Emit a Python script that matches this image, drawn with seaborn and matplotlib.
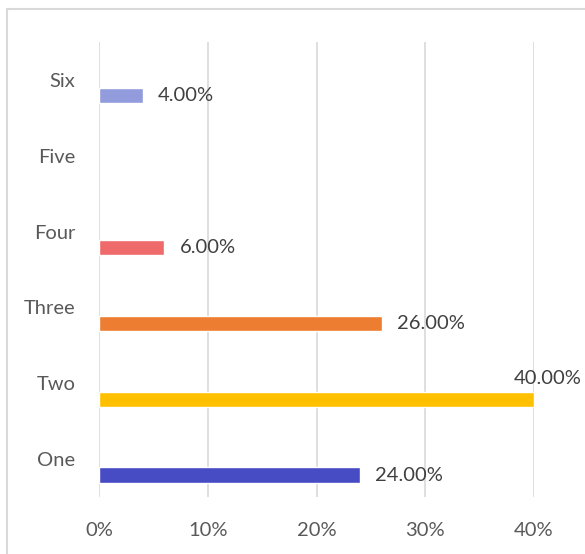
import numpy as np
import pandas as pd
import matplotlib
matplotlib.use("Agg")
import matplotlib.pyplot as plt
from matplotlib.lines import Line2D
import seaborn as sns

# Share of responses per option
categories = ["Six", "Five", "Four", "Three", "Two", "One"]
shares = [0.04, np.nan, 0.06, 0.26, 0.40, 0.24]
bar_colors = ["#929CDC", "#A5A5A5", "#EF6B6B", "#ED7D31", "#FFC000", "#474BC4"]
x_ticks = [0.0, 0.1, 0.2, 0.3, 0.4]
x_tick_labels = ["0%", "10%", "20%", "30%", "40%"]

df = pd.DataFrame({"option": categories, "share": shares})

sns.set_theme(style="white")
plt.rcParams["font.family"] = ["Lato", "DejaVu Sans"]

text_color = "#595959"
value_color = "#404040"
grid_color = "#D9D9D9"
fs = 14.5

fig = plt.figure(figsize=(5.85, 5.54), dpi=100)
ax = fig.add_axes([99 / 585, 1 - 497 / 554, (534 - 99) / 585, (497 - 42) / 554])

sns.barplot(
    data=df, y="option", x="share", order=categories, hue="option",
    palette=dict(zip(categories, bar_colors)), legend=False,
    orient="h", width=0.2, saturation=1, ax=ax,
)

# category labels sit above the bars, centred in each band
label_shift = 0.21
ax.set_yticks([i - label_shift for i in range(len(categories))])
ax.set_yticklabels(categories)
ax.set_ylim(len(categories) - 1 - label_shift + 0.5, -label_shift - 0.5)

ax.set_xlim(0, 0.4)
ax.set_xticks(x_ticks)
ax.set_xticklabels(x_tick_labels)
ax.set_xlabel("")
ax.set_ylabel("")

ax.grid(axis="x", color=grid_color, linewidth=1.2)
ax.set_axisbelow(True)
for s in ax.spines.values():
    s.set_visible(False)
ax.tick_params(axis="both", length=0, labelsize=fs, labelcolor=text_color)
ax.tick_params(axis="y", pad=17)
ax.tick_params(axis="x", pad=18)

# value labels
for i, v in enumerate(shares):
    if np.isnan(v):
        continue
    label = f"{v * 100:.2f}%"
    if v >= 0.4:
        ax.annotate(label, xy=(v, i), xytext=(34, 15),
                    textcoords="offset points", ha="right", va="center",
                    fontsize=fs, color=value_color, annotation_clip=False)
    else:
        ax.annotate(label, xy=(v, i), xytext=(11, 0),
                    textcoords="offset points", ha="left", va="center",
                    fontsize=fs, color=value_color, annotation_clip=False)

# outer chart frame
fig.add_artist(Line2D([7 / 585, 7 / 585], [0, 1 - 9 / 554], transform=fig.transFigure,
                      color=grid_color, linewidth=1.5))
fig.add_artist(Line2D([7 / 585, 1], [1 - 9 / 554, 1 - 9 / 554], transform=fig.transFigure,
                      color=grid_color, linewidth=1.5))

fig.savefig("out.png", dpi=100, facecolor="white")
